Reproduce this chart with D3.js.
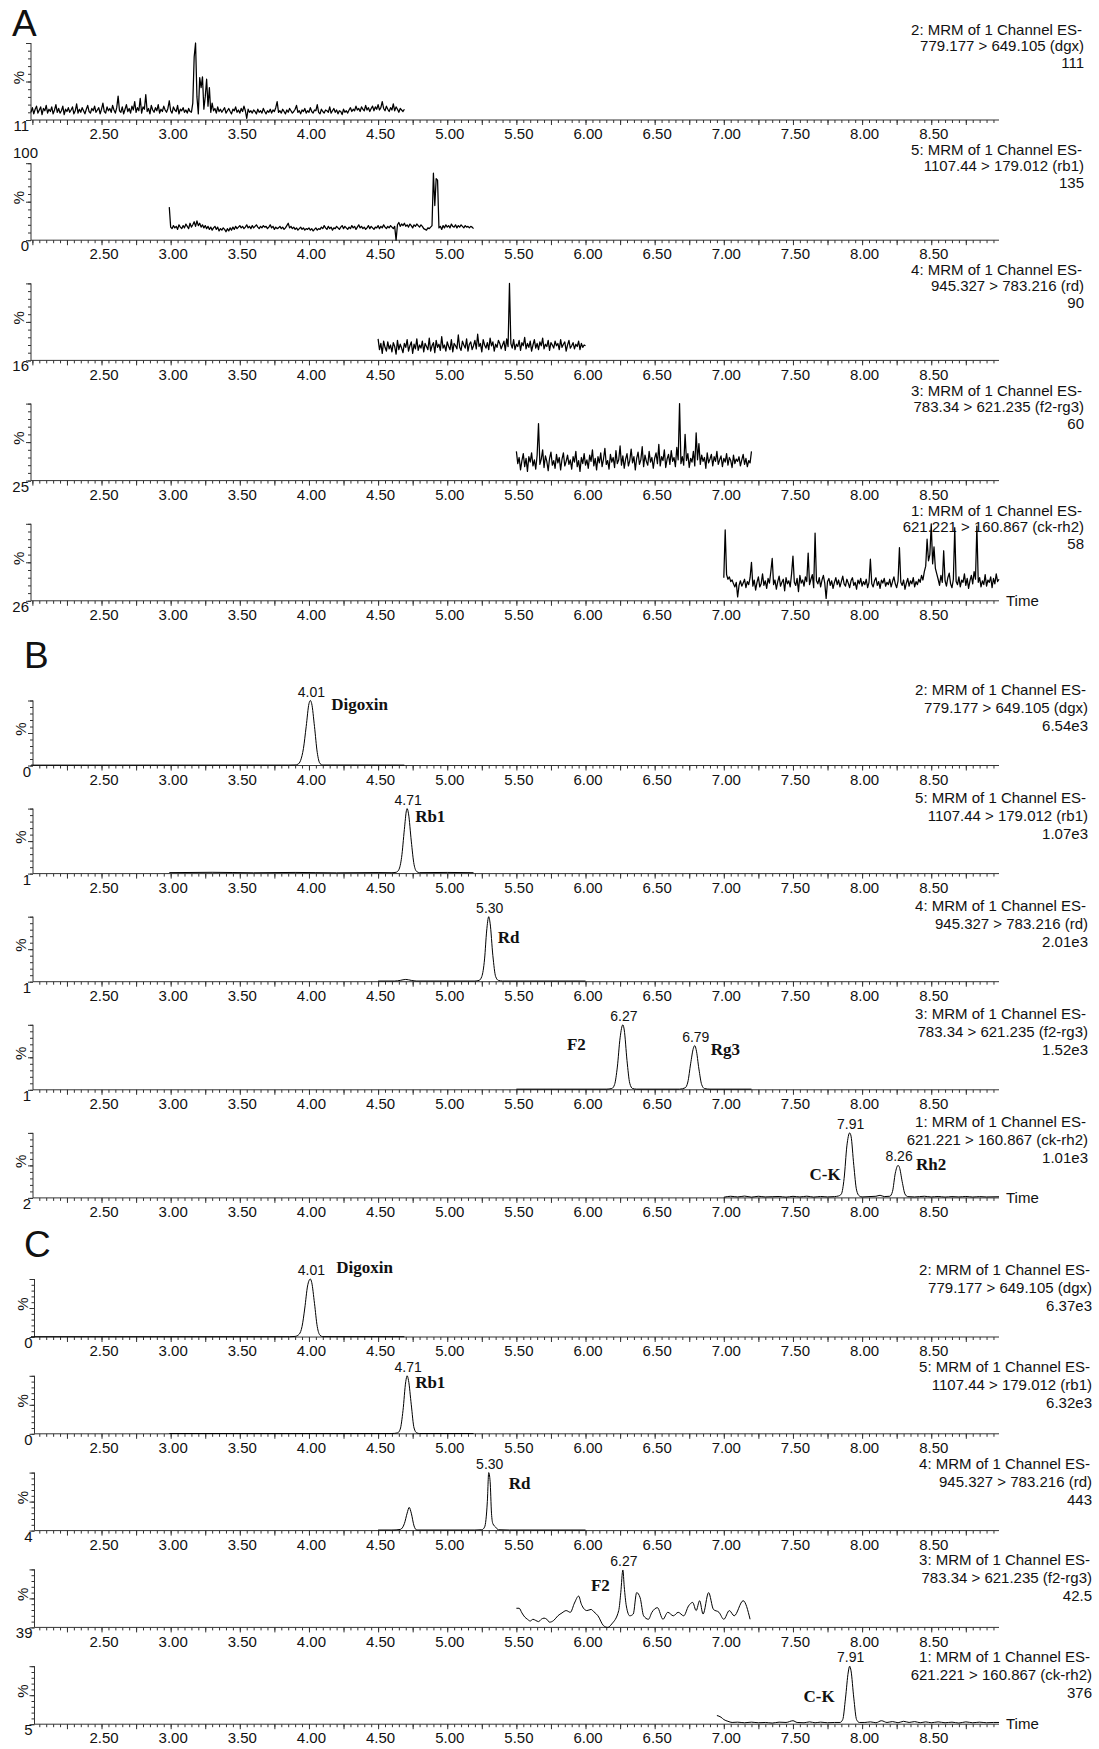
<!DOCTYPE html>
<html>
<head>
<meta charset="utf-8">
<script src="https://cdn.jsdelivr.net/npm/d3@7"></script>
<style>
  body { margin: 0; background: #fff; }
  text { font-family: "Liberation Sans", Arial, sans-serif; fill: #111; }
  .name { font-family: "Liberation Serif", "Times New Roman", serif; font-weight: bold; font-size: 17px; }
</style>
</head>
<body>
<div id="chart"></div>
<script>
//time axis and channel info
const timeDomain = [1.99, 8.99];
const xTickLabels = [2.5, 3.0, 3.5, 4.0, 4.5, 5.0, 5.5, 6.0, 6.5, 7.0, 7.5, 8.0, 8.5];
const channelIds = ["2", "5", "4", "3", "1"];
const transitions = ["779.177 > 649.105 (dgx)", "1107.44 > 179.012 (rb1)", "945.327 > 783.216 (rd)",
    "783.34 > 621.235 (f2-rg3)", "621.221 > 160.867 (ck-rh2)"];

//intensity (max) and baseline (min) labels per panel
const maxA = ["111", "135", "90", "60", "58"];
const minA = ["11", "0", "16", "25", "26"];
const maxB = ["6.54e3", "1.07e3", "2.01e3", "1.52e3", "1.01e3"];
const minB = ["0", "1", "1", "1", "2"];
const maxC = ["6.37e3", "6.32e3", "443", "42.5", "376"];
const minC = ["0", "0", "4", "39", "5"];

//A: blank traces, one reading every 0.01 min from the start time (% of full scale)
const blankStep = 0.01;
const blankStarts = [1.99, 2.99, 4.50, 5.50, 7.00];
const blankDgx = [
    10, 16, 8, 14, 18, 9, 13, 17, 7, 15, 12, 19, 9, 14, 11, 17, 8, 13, 20, 10,
    15, 9, 12, 18, 7, 14, 11, 16, 10, 13, 17, 8, 12, 21, 9, 14, 10, 16, 12, 8,
    14, 19, 11, 9, 15, 12, 18, 10, 13, 16, 8, 14, 22, 11, 9, 17, 12, 15, 10, 19,
    13, 9, 16, 31, 12, 10, 17, 8, 14, 20, 11, 15, 9, 18, 13, 24, 10, 16, 12, 28,
    9, 17, 14, 33, 11, 15, 8, 19, 13, 10, 16, 12, 20, 9, 14, 11, 18, 13, 10, 15,
    25, 12, 9, 17, 13, 11, 19, 8, 14, 12, 16, 10, 13, 9, 15, 11, 10, 22, 82, 100,
    30, 8, 55, 42, 56, 14, 30, 53, 18, 42, 10, 22, 12, 15, 9, 17, 11, 14, 10, 13,
    16, 9, 12, 15, 11, 8, 14, 12, 17, 10, 13, 9, 15, 11, 18, 12, 2, 14, 10, 12,
    9, 13, 11, 8, 14, 10, 12, 9, 15, 11, 8, 12, 10, 14, 9, 13, 11, 16, 24, 10,
    12, 9, 14, 11, 8, 13, 10, 15, 12, 9, 11, 14, 19, 10, 12, 8, 13, 11, 15, 9,
    12, 10, 16, 11, 9, 13, 12, 20, 10, 8, 14, 11, 9, 13, 12, 10, 17, 9, 12, 15,
    10, 13, 8, 12, 11, 7, 14, 10, 12, 9, 13, 16, 11, 14, 12, 18, 13, 15, 11, 17,
    14, 12, 19, 13, 16, 11, 15, 18, 12, 17, 14, 20, 13, 16, 24, 15, 12, 18, 14, 11,
    16, 13, 21, 12, 17, 14, 10, 15, 13, 11, 14];
const blankRb1 = [
    43, 17, 15, 19, 16, 18, 14, 20, 17, 15, 19, 16, 21, 18, 15, 22, 17, 20, 24, 18,
    25, 19, 22, 17, 20, 16, 19, 15, 18, 14, 17, 13, 16, 18, 14, 17, 12, 15, 13, 16,
    14, 11, 15, 12, 16, 13, 17, 14, 18, 15, 17, 19, 16, 18, 15, 17, 20, 16, 18, 15,
    19, 16, 18, 20, 17, 15, 18, 16, 19, 17, 18, 15, 17, 20, 16, 18, 14, 17, 15, 16,
    18, 15, 17, 14, 16, 19, 22, 16, 18, 15, 17, 14, 16, 13, 15, 17, 14, 16, 13, 15,
    14, 16, 13, 15, 12, 14, 16, 13, 15, 14, 17, 15, 19, 16, 14, 18, 15, 17, 13, 16,
    15, 18, 16, 14, 17, 19, 15, 18, 16, 14, 17, 15, 19, 16, 18, 14, 17, 20, 16, 18,
    15, 17, 14, 16, 19, 15, 18, 16, 14, 17, 16, 19, 15, 18, 16, 20, 17, 15, 18, 16,
    19, 17, 15, 18, 0, 20, 23, 18, 21, 19, 22, 18, 20, 17, 21, 19, 16, 20, 18, 21,
    19, 17, 20, 18, 15, 14, 13, 16, 15, 17, 19, 87, 45, 80, 78, 16, 18, 14, 19, 16,
    20, 17, 19, 16, 21, 18, 17, 20, 16, 19, 17, 20, 18, 16, 19, 17, 18, 16, 18, 17, 15];
const blankRd = [
    28, 14, 22, 9, 25, 17, 12, 24, 15, 20, 11, 23, 18, 8, 26, 14, 21, 16, 10, 22,
    17, 27, 12, 19, 24, 9, 21, 15, 28, 13, 20, 16, 25, 11, 22, 18, 14, 29, 12, 19,
    23, 10, 26, 17, 21, 13, 31, 16, 20, 12, 24, 18, 14, 27, 11, 22, 19, 15, 33, 17,
    13, 25, 20, 16, 28, 12, 21, 24, 14, 19, 26, 15, 34, 18, 22, 11, 27, 20, 16, 23,
    14, 29, 19, 24, 12, 21, 17, 26, 22, 15, 20, 25, 13, 28, 18, 100, 22, 16, 27, 14,
    21, 18, 26, 13, 23, 19, 30, 15, 22, 17, 25, 12, 20, 27, 16, 22, 14, 24, 19, 29,
    15, 21, 18, 26, 13, 23, 20, 16, 25, 19, 22, 14, 27, 17, 21, 24, 12, 20, 26, 16,
    19, 23, 15, 21, 18, 25, 14, 22, 17, 20, 19];
const blankF2rg3 = [
    38, 22, 30, 14, 26, 35, 18, 29, 12, 31, 24, 36, 19, 27, 15, 33, 74, 21, 28, 40,
    17, 32, 25, 13, 29, 37, 20, 26, 16, 34, 23, 30, 14, 28, 36, 19, 25, 33, 21, 27,
    15, 31, 24, 38, 18, 26, 12, 30, 22, 35, 20, 27, 16, 33, 25, 40, 19, 29, 14, 31,
    23, 36, 18, 28, 42, 21, 26, 15, 34, 24, 30, 17, 39, 22, 27, 45, 20, 32, 16, 28,
    35, 19, 26, 41, 23, 31, 14, 29, 37, 21, 27, 44, 18, 33, 25, 20, 38, 24, 30, 16,
    29, 36, 22, 47, 19, 31, 26, 40, 17, 28, 34, 21, 39, 25, 30, 18, 43, 27, 100, 22,
    31, 20, 60, 26, 35, 17, 29, 24, 38, 19, 62, 27, 48, 21, 33, 25, 30, 16, 36, 23,
    28, 34, 19, 31, 25, 38, 21, 27, 32, 18, 29, 24, 35, 20, 30, 26, 17, 33, 22, 28,
    25, 31, 19, 27, 34, 21, 29, 18, 26, 23, 38];
const blankCkrh2 = [
    30, 92, 34, 28, 31, 25, 27, 22, 18, 24, 5, 20, 26, 19, 23, 28, 17, 25, 21, 30,
    50, 19, 27, 14, 24, 31, 18, 22, 35, 20, 26, 16, 29, 23, 38, 55, 21, 27, 15, 25,
    32, 19, 24, 28, 13, 30, 22, 26, 18, 35, 58, 24, 20, 29, 12, 33, 23, 27, 19, 31,
    25, 62, 21, 28, 34, 17, 88, 26, 22, 30, 18, 27, 33, 23, 3, 25, 29, 20, 26, 16,
    24, 30, 21, 27, 18, 25, 32, 22, 19, 28, 23, 17, 26, 30, 20, 24, 15, 27, 22, 29,
    19, 25, 21, 28, 17, 24, 54, 22, 18, 26, 30, 20, 25, 16, 27, 23, 29, 19, 24, 21,
    28, 18, 25, 31, 22, 17, 26, 69, 24, 20, 27, 15, 23, 29, 19, 26, 22, 30, 18, 25,
    21, 28, 24, 33, 27, 38, 45, 80, 52, 60, 100, 48, 70, 42, 35, 28, 20, 33, 24, 65,
    26, 19, 30, 36, 22, 17, 28, 95, 25, 21, 31, 18, 27, 24, 35, 20, 29, 16, 26, 33,
    22, 38, 28, 97, 24, 30, 18, 26, 21, 34, 19, 27, 24, 31, 17, 29, 22, 35, 25, 28];

//B: standards, [time, %]
const stdDgx = [[1.99, 0.6], [3.85, 0.6], [3.90, 0.8], [3.92, 2], [3.94, 8], [3.96, 26], [3.98, 60],
    [4.00, 95], [4.01, 100], [4.02, 95], [4.04, 60], [4.06, 20], [4.08, 3], [4.10, 0.7], [4.69, 0.6]];
const stdRb1 = [[2.99, 1.5], [3.3, 2], [3.6, 1.3], [3.9, 1.8], [4.2, 1.2], [4.5, 1.6], [4.6, 1.4], [4.63, 2],
    [4.65, 6], [4.67, 25], [4.69, 68], [4.705, 97], [4.71, 100], [4.72, 92], [4.74, 50], [4.76, 14],
    [4.78, 3], [4.80, 1.5], [5.0, 1.8], [5.19, 1.4]];
const stdRd = [[4.50, 1], [4.62, 1], [4.66, 2], [4.70, 3.5], [4.74, 2], [4.78, 1], [5.20, 1], [5.23, 2],
    [5.25, 8], [5.27, 35], [5.285, 78], [5.30, 100], [5.31, 90], [5.33, 40], [5.35, 8], [5.37, 2],
    [5.40, 1], [6.00, 1]];
const stdF2rg3 = [[5.50, 1], [6.15, 1], [6.19, 2], [6.21, 8], [6.23, 35], [6.25, 80], [6.27, 100],
    [6.28, 92], [6.30, 45], [6.32, 10], [6.34, 2], [6.37, 1], [6.68, 1], [6.72, 3], [6.74, 12],
    [6.76, 40], [6.78, 64], [6.79, 68], [6.80, 62], [6.82, 32], [6.84, 8], [6.86, 2], [6.90, 1], [7.20, 1]];
const stdCkrh2 = [[7.00, 1], [7.05, 2.5], [7.10, 1.5], [7.15, 2.8], [7.20, 1.2], [7.25, 2.5], [7.30, 1.5],
    [7.40, 2.2], [7.45, 1.2], [7.50, 2.4], [7.55, 1.5], [7.60, 2.6], [7.65, 1.3], [7.70, 2.2], [7.75, 1.5],
    [7.80, 2], [7.83, 3], [7.85, 6], [7.87, 30], [7.89, 80], [7.91, 100], [7.92, 95], [7.94, 50],
    [7.96, 12], [7.98, 3], [8.00, 1.5], [8.05, 2], [8.10, 2.5], [8.13, 4], [8.16, 2], [8.20, 2.5],
    [8.22, 10], [8.24, 38], [8.26, 50], [8.27, 47], [8.29, 25], [8.31, 6], [8.33, 2], [8.38, 1.5],
    [8.45, 2.5], [8.50, 1.5], [8.55, 2.2], [8.60, 1.3], [8.65, 2], [8.70, 1.5], [8.75, 2.2], [8.80, 1.4],
    [8.85, 2], [8.90, 1.5], [8.99, 1.8]];

//C: samples, [time, %]
const smpDgx = [[1.99, 0.5], [3.86, 0.5], [3.90, 1], [3.93, 5], [3.95, 18], [3.97, 50], [3.99, 88],
    [4.01, 100], [4.02, 94], [4.04, 58], [4.06, 18], [4.08, 3], [4.10, 0.6], [4.69, 0.5]];
const smpRb1 = [[2.99, 0.5], [4.60, 0.5], [4.64, 1.5], [4.66, 8], [4.68, 40], [4.70, 90], [4.71, 100],
    [4.72, 92], [4.74, 50], [4.76, 10], [4.78, 1.5], [4.80, 0.5], [5.19, 0.5]];
const smpRd = [[4.50, 1], [4.60, 1], [4.66, 2], [4.69, 12], [4.71, 30], [4.725, 40], [4.74, 30],
    [4.76, 8], [4.78, 1], [5.20, 1], [5.25, 1.5], [5.27, 6], [5.29, 50], [5.30, 100], [5.31, 85],
    [5.32, 30], [5.33, 12], [5.35, 6], [5.37, 1.5], [5.45, 1], [6.00, 1]];
const smpF2rg3 = [[5.50, 33], [5.52, 33], [5.54, 25], [5.56, 18], [5.58, 14], [5.60, 11], [5.62, 14],
    [5.64, 12], [5.66, 10], [5.68, 14], [5.70, 16], [5.72, 14], [5.74, 9], [5.77, 12], [5.80, 20],
    [5.83, 25], [5.86, 29], [5.89, 26], [5.92, 42], [5.95, 54], [5.97, 40], [6.01, 29], [6.04, 31],
    [6.06, 27], [6.09, 20], [6.13, 3], [6.16, 0], [6.19, 6], [6.24, 29], [6.255, 60], [6.27, 99],
    [6.28, 70], [6.295, 37], [6.32, 20], [6.345, 23], [6.37, 60], [6.395, 51], [6.42, 20], [6.455, 14],
    [6.48, 26], [6.52, 34], [6.56, 14], [6.595, 26], [6.635, 20], [6.67, 26], [6.71, 20], [6.745, 37],
    [6.775, 43], [6.80, 29], [6.825, 46], [6.85, 23], [6.89, 60], [6.925, 31], [6.965, 26], [7.00, 14],
    [7.04, 29], [7.075, 20], [7.14, 46], [7.19, 14]];
const smpCkrh2 = [[6.95, 15], [6.98, 12], [7.00, 8], [7.03, 5], [7.06, 3], [7.10, 3.5], [7.15, 2.5],
    [7.20, 3.5], [7.25, 2.5], [7.30, 3], [7.35, 2], [7.40, 3.5], [7.45, 3], [7.50, 6], [7.53, 3],
    [7.58, 2.5], [7.62, 4], [7.66, 2.5], [7.70, 3.5], [7.75, 2.5], [7.80, 3], [7.84, 3], [7.86, 8],
    [7.88, 45], [7.90, 90], [7.91, 100], [7.92, 92], [7.94, 45], [7.96, 8], [7.98, 3], [8.02, 3],
    [8.06, 4], [8.10, 2.5], [8.14, 6], [8.18, 3], [8.22, 4.5], [8.26, 2.5], [8.30, 5], [8.34, 3],
    [8.38, 4.5], [8.42, 2.5], [8.46, 4], [8.50, 2.5], [8.55, 4], [8.60, 2.5], [8.65, 3.5], [8.70, 2],
    [8.75, 4], [8.80, 2.5], [8.85, 3.5], [8.90, 2.5], [8.95, 3], [8.99, 3]];

//peak annotations: retention time, apex height (%), compound
const peaksB = [[[4.01, 100, "Digoxin"]], [[4.71, 100, "Rb1"]], [[5.30, 100, "Rd"]],
    [[6.27, 100, "F2"], [6.79, 68, "Rg3"]], [[7.91, 100, "C-K"], [8.26, 50, "Rh2"]]];
const peaksC = [[[4.01, 100, "Digoxin"]], [[4.71, 100, "Rb1"]], [[5.30, 100, "Rd"]],
    [[6.27, 99, "F2"]], [[7.91, 100, "C-K"]]];
//where the compound names sit: [dx from apex (negative = ends left of apex), baseline below panel top]
const nameSpotsB = [[[21, 9]], [[8, 13]], [[9, 26]], [[-37, 25], [16, 30]], [[-9, 47], [18, 37]]];
const nameSpotsC = [[[26, -6]], [[8, 12]], [[20, 16]], [[-13, 22]], [[-15, 36]]];

const blanks = [blankDgx, blankRb1, blankRd, blankF2rg3, blankCkrh2].map((vals, i) =>
    vals.map((v, k) => [blankStarts[i] + k * blankStep, v]));

const groups = [
    { letter: "A", letterX: 12, letterY: 36, axisLeft: 31, base0: 120, period: 120.2, height: 77,
      textRight: 1084, textDy: [-8, 8, 25], maxLabels: maxA, minLabels: minA, traces: blanks,
      curve: d3.curveLinear, stroke: 1.25, peaks: null },
    { letter: "B", letterX: 24, letterY: 668, axisLeft: 33, base0: 765.5, period: 108.1, height: 65,
      textRight: 1088, textDy: [-6, 12, 30], maxLabels: maxB, minLabels: minB,
      traces: [stdDgx, stdRb1, stdRd, stdF2rg3, stdCkrh2], curve: d3.curveMonotoneX, stroke: 1,
      peaks: peaksB, spots: nameSpotsB },
    { letter: "C", letterX: 24, letterY: 1257, axisLeft: 34.5, base0: 1337, period: 96.8, height: 58,
      textRight: 1092, textDy: [-4, 14, 32], maxLabels: maxC, minLabels: minC,
      traces: [smpDgx, smpRb1, smpRd, smpF2rg3, smpCkrh2], curve: d3.curveMonotoneX, stroke: 1,
      peaks: peaksC, spots: nameSpotsC }
];

const width = 1099, height = 1749;
const axisRight = 999;
const x = d3.scaleLinear().domain(timeDomain).range([31, axisRight]);
const minorTicks = d3.range(40, 180).map(k => k * 0.05);
const quarterTicks = d3.range(8, 36).map(k => k * 0.25);

const svg = d3.select("#chart").append("svg")
    .attr("width", width)
    .attr("height", height);

function drawPanel(grp, i) {
    const y0 = grp.base0 + i * grp.period;
    const top = y0 - grp.height;
    const y = d3.scaleLinear().domain([0, 100]).range([y0, top]);
    const g = svg.append("g");
    const left = grp.axisLeft;

    //x axis ticks (minor, quarter, labelled)
    const tickVals = arr => arr.filter(t => x(t) > left + 1);
    g.append("g").attr("transform", `translate(0,${y0})`)
        .call(d3.axisBottom(x).tickValues(tickVals(minorTicks)).tickSize(3).tickFormat(""))
        .call(s => s.select(".domain").remove());
    g.append("g").attr("transform", `translate(0,${y0})`)
        .call(d3.axisBottom(x).tickValues(tickVals(quarterTicks)).tickSize(5).tickFormat(""))
        .call(s => s.select(".domain").remove());
    g.append("g").attr("transform", `translate(0,${y0})`)
        .call(d3.axisBottom(x).tickValues(xTickLabels).tickSize(0).tickPadding(8.5).tickFormat(d3.format(".2f")))
        .call(s => s.select(".domain").remove())
        .selectAll("text").attr("dx", 2).style("font-size", "15px").style("font-family", "Liberation Sans, Arial");

    //y axis ticks
    g.append("g").attr("transform", `translate(${left},0)`)
        .call(d3.axisLeft(y).tickFormat("").tickValues(d3.range(0, 11).map(k => k * 10)).tickSize(3))
        .call(s => s.select(".domain").remove());
    g.append("g").attr("transform", `translate(${left},0)`)
        .call(d3.axisLeft(y).tickFormat("").tickValues([0, 50, 100]).tickSize(5))
        .call(s => s.select(".domain").remove());
    g.selectAll(".tick line").attr("stroke", "#333");

    //axis lines
    g.append("line").attr("x1", left).attr("x2", axisRight).attr("y1", y0).attr("y2", y0)
        .attr("stroke", "#333");
    g.append("line").attr("x1", left).attr("x2", left).attr("y1", y0).attr("y2", top)
        .attr("stroke", "#333");

    //% label and min label
    g.append("text").attr("transform", `translate(${left - 7},${(y0 + top) / 2 - 4}) rotate(-90)`)
        .attr("text-anchor", "middle").style("font-size", "15px").text("%");
    g.append("text").attr("x", left - 2).attr("y", y0 + 11).attr("text-anchor", "end")
        .style("font-size", "15px").text(grp.minLabels[i]);
    if (grp.letter === "A" && i === 1) {
        g.append("text").attr("x", left + 7).attr("y", top - 5).attr("text-anchor", "end")
            .style("font-size", "15px").text("100");
    }

    //channel description
    const lines = [`${channelIds[i]}: MRM of 1 Channel ES-`, transitions[i], grp.maxLabels[i]];
    lines.forEach((t, k) => {
        g.append("text").attr("x", grp.textRight - (k === 0 ? 2 : 0)).attr("y", top + grp.textDy[k])
            .attr("text-anchor", "end").style("font-size", "15px").text(t);
    });
    if (i === 4) {
        g.append("text").attr("x", 1006).attr("y", y0 + 5).style("font-size", "15px").text("Time");
    }

    //trace
    const line = d3.line().x(d => x(d[0])).y(d => y(d[1])).curve(grp.curve);
    g.append("path").datum(grp.traces[i])
        .attr("d", line)
        .attr("fill", "none")
        .attr("stroke", "#000")
        .attr("stroke-width", grp.stroke)
        .attr("stroke-linejoin", "round");

    //peak labels
    if (grp.peaks) {
        grp.peaks[i].forEach((p, k) => {
            const [rt, h, name] = p;
            const [dx, dy] = grp.spots[i][k];
            g.append("text").attr("x", x(rt) + 1).attr("y", y(h) - 4).attr("text-anchor", "middle")
                .style("font-size", "14px").text(rt.toFixed(2));
            g.append("text").attr("class", "name")
                .attr("x", x(rt) + dx).attr("y", top + dy)
                .attr("text-anchor", dx < 0 ? "end" : "start")
                .text(name);
        });
    }
}

groups.forEach(grp => {
    svg.append("text").attr("x", grp.letterX).attr("y", grp.letterY)
        .style("font-size", "37px").text(grp.letter);
    d3.range(5).forEach(i => drawPanel(grp, i));
});
</script>
</body>
</html>
